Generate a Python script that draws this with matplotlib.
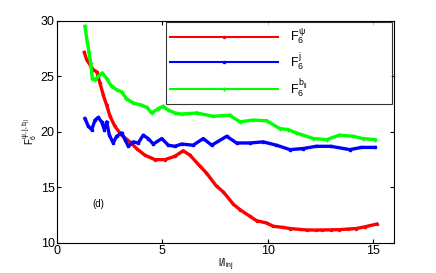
import matplotlib
matplotlib.use('Agg')
import matplotlib.pyplot as plt

plt.rcParams['font.family'] = ['Liberation Sans', 'DejaVu Sans']
plt.rcParams['mathtext.fontset'] = 'custom'
plt.rcParams['mathtext.rm'] = 'Liberation Sans'
plt.rcParams['mathtext.it'] = 'Liberation Sans'

# F6^psi (red)
x_psi = [1.31, 1.42, 1.73, 1.9, 2.05, 2.21, 2.37, 2.53, 2.76, 3.08, 3.47, 3.79,
         4.18, 4.66, 5.13, 5.6, 6.0, 6.32, 6.8, 7.1, 7.58, 7.9, 8.37, 8.69, 9.16,
         9.48, 9.95, 10.27, 10.74, 11.06, 11.53, 11.85, 12.3, 12.6, 13.0, 13.4,
         13.8, 14.2, 14.6, 15.17]
y_psi = [27.15, 26.5, 25.6, 25.4, 24.4, 23.3, 22.4, 21.4, 20.5, 19.7, 19.1, 18.5,
         17.9, 17.5, 17.5, 17.8, 18.3, 17.9, 16.9, 16.3, 15.1, 14.6, 13.5, 13.0, 12.4,
         12.0, 11.8, 11.5, 11.4, 11.3, 11.22, 11.17, 11.16, 11.17, 11.18, 11.2,
         11.25, 11.3, 11.45, 11.7]

# F6^j (blue)
x_j = [1.34, 1.5, 1.66, 1.82, 1.97, 2.13, 2.26, 2.37, 2.5, 2.68, 2.84, 3.08,
       3.24, 3.4, 3.63, 3.87, 4.1, 4.34, 4.58, 4.98, 5.29, 5.6, 5.92, 6.47,
       6.95, 7.35, 8.06, 8.53, 9.16, 9.79, 10.42, 11.06, 11.69, 12.3, 13.0,
       13.9, 14.45, 15.08]
y_j = [21.2, 20.5, 20.2, 21.06, 21.3, 20.9, 20.2, 20.9, 19.7, 19.0, 19.6, 19.9,
       19.3, 18.7, 19.1, 19.0, 19.7, 19.4, 18.9, 19.4, 18.8, 18.7, 18.9, 18.8,
       19.4, 18.8, 19.6, 19.0, 19.0, 19.1, 18.8, 18.4, 18.5, 18.7, 18.7,
       18.4, 18.6, 18.6]

# F6^b|| (green)
x_b = [1.34, 1.45, 1.53, 1.61, 1.69, 1.82, 1.97, 2.16, 2.37, 2.6, 2.84, 3.08,
       3.3, 3.63, 4.03, 4.27, 4.5, 4.82, 5.05, 5.29, 5.6, 5.92, 6.63, 7.42,
       8.2, 8.69, 9.3, 9.95, 10.58, 10.98, 11.37, 12.16, 12.8, 13.4, 14.05,
       14.5, 15.1]
y_b = [29.5, 28.1, 27.2, 26.2, 24.8, 24.7, 25.0, 25.3, 24.8, 24.1, 23.8, 23.6,
       23.0, 22.6, 22.4, 22.2, 21.7, 22.1, 22.3, 21.96, 21.7, 21.6, 21.7, 21.4,
       21.5, 20.9, 21.06, 21.0, 20.3, 20.2, 19.9, 19.4, 19.3, 19.7, 19.6,
       19.4, 19.3]

fig = plt.figure(figsize=(4.36, 2.73), dpi=100)
ax = fig.add_axes([0.130, 0.110, 0.774, 0.814])

ax.plot(x_psi, y_psi, '.-', color='#ff0000', lw=2.4, ms=3, label=r'$F_6^{\psi}$')
ax.plot(x_j, y_j, 's-', color='#0000ff', lw=2.4, ms=1.8, label=r'$F_6^{j}$')
ax.plot(x_b, y_b, '+-', color='#00ff00', lw=2.4, ms=3, label=r'$F_6^{b_{||}}$')

ax.set_xlim(0, 16)
ax.set_ylim(10, 30)
ax.set_xticks([0, 5, 10, 15])
ax.set_yticks([10, 15, 20, 25, 30])
ax.tick_params(direction='in', top=True, right=True, labelsize=9, length=3, pad=1.5)
ax.set_xlabel(r'l/l$_{\rm inj}$', fontsize=7, labelpad=0)
ax.set_ylabel(r'$F_6^{\psi,j,b_{||}}$', fontsize=7, labelpad=1)
ax.text(1.7, 13.2, '(d)', fontsize=7)

leg = ax.legend(loc='upper left', bbox_to_anchor=(0.324, 0.652, 0.67, 0.342),
                mode='expand', handlelength=8.6, fontsize=9, frameon=True,
                fancybox=False, edgecolor='black', labelspacing=0.35,
                borderpad=0.35, handletextpad=1.0,
                numpoints=1, borderaxespad=0)
leg.get_frame().set_linewidth(0.8)
for line in leg.get_lines():
    line.set_linewidth(1.5)

fig.savefig('out.png', dpi=100)
